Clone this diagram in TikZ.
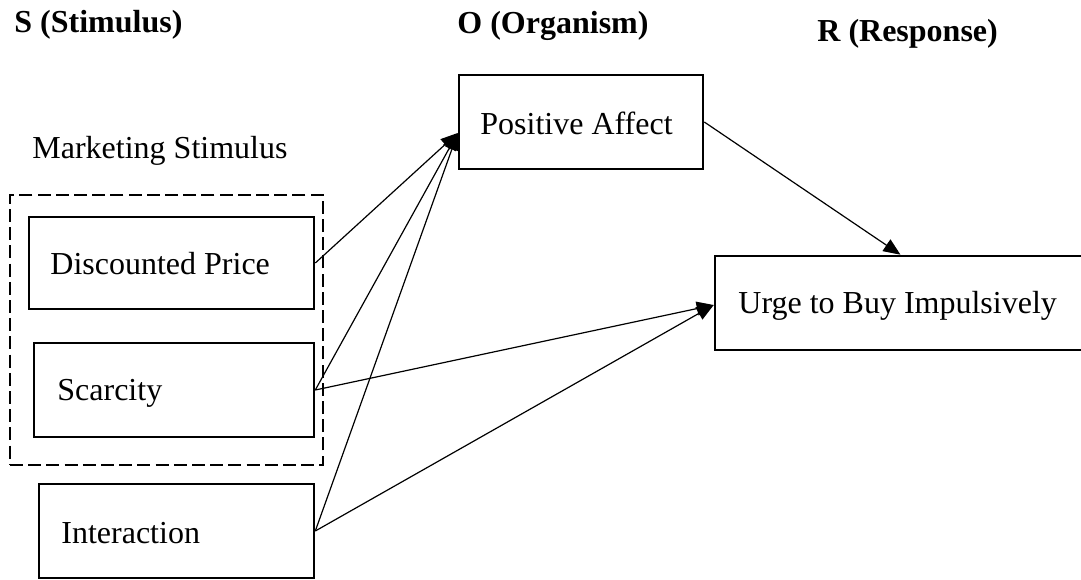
\documentclass[tikz,border=0pt]{standalone}
\usepackage{fontspec}
\setmainfont{Liberation Serif}
\usetikzlibrary{arrows.meta,calc}
\begin{document}
\begin{tikzpicture}[x=0.5pt,y=-0.5pt,
  box/.style={draw,line width=1.3pt,rectangle,inner sep=0pt},
  lbl/.style={anchor=base west,inner sep=0pt,font=\fontsize{16}{19}\selectfont},
  head/.style={anchor=base west,inner sep=0pt,font=\fontsize{16}{19}\selectfont\bfseries},
  arr/.style={line width=0.6pt,-{Triangle[length=8.5pt,width=7pt]}},
  dashbox/.style={draw,line width=1.3pt,dash pattern=on 6.5pt off 2.6pt}]
\useasboundingbox (0,0) rectangle (1081,579);
% headings
\node[head] (hS) at (14,32) {S (Stimulus)};
\node[head] (hO) at (457,33) {O (Organism)};
\node[head] (hR) at (817,41) {R (Response)};
\node[lbl] (ms) at (32,158) {Marketing Stimulus};
% dashed group
\node[dashbox,minimum width=313*0.5pt,minimum height=270*0.5pt,inner sep=0pt] (grp) at (166.5,330) {};
% boxes
\node[box,minimum width=285*0.5pt,minimum height=92*0.5pt] (dp) at (171.5,263) {};
\node[box,minimum width=280*0.5pt,minimum height=94*0.5pt] (sc) at (174,390) {};
\node[box,minimum width=275*0.5pt,minimum height=94*0.5pt] (in) at (176.5,531) {};
\node[box,minimum width=244*0.5pt,minimum height=94*0.5pt] (pa) at (581,122) {};
\node[box,minimum width=385*0.5pt,minimum height=94*0.5pt] (ub) at (907.5,303) {};
% texts
\node[lbl] (tdp) at (50,274) {Discounted Price};
\node[lbl] (tsc) at (57,400) {Scarcity};
\node[lbl] (tin) at (61,543) {Interaction};
\node[lbl] (tpa) at (480,134) {Positive Affect};
\node[lbl] (tub) at (738,313) {Urge to Buy Impulsively};
% target points
\coordinate (pain) at ($(pa.west)+(0,11)$);
\coordinate (ubin) at ($(ub.west)+(0,2)$);
\coordinate (ubtop) at ($(ub.north)+(-7,0)$);
% connectors
\draw[arr] (dp.east) -- (pain);
\draw[arr] (sc.east) -- (pain);
\draw[arr] (in.east) -- (pain);
\draw[arr] (sc.east) -- (ubin);
\draw[arr] (in.east) -- (ubin);
\draw[arr] (pa.east) -- (ubtop);
\end{tikzpicture}
\end{document}
